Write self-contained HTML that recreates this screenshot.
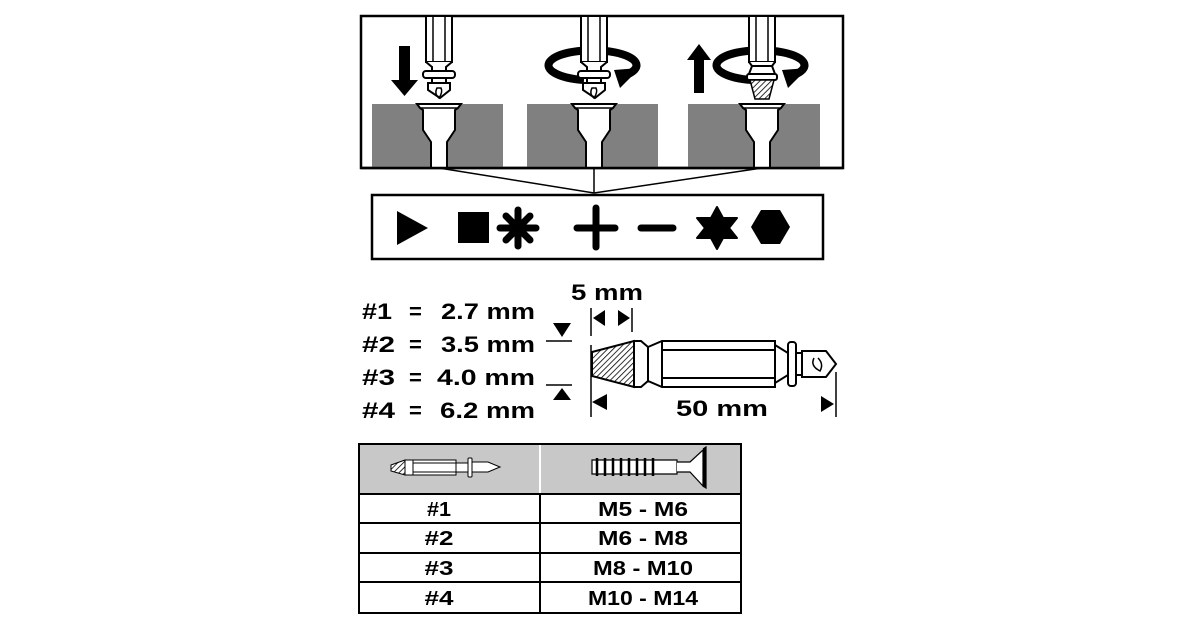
<!DOCTYPE html>
<html><head><meta charset="utf-8"><style>
html,body{margin:0;padding:0;background:#fff;}
svg{display:block;}
text{font-family:"Liberation Sans",sans-serif;font-weight:bold;fill:#000;}
</style></head><body>
<svg width="1200" height="630" viewBox="0 0 1200 630" xmlns="http://www.w3.org/2000/svg">
<defs>
<pattern id="hatch" width="4" height="4" patternUnits="userSpaceOnUse" patternTransform="rotate(45)">
<rect width="4" height="4" fill="#fff"/><line x1="0" y1="0" x2="0" y2="4" stroke="#000" stroke-width="1.6"/>
</pattern>
<g id="hole">
<path d="M-22,0 L22,0 L19,4 L16,6 L16,26 L8,38 L8,64 L-8,64 L-8,38 L-16,26 L-16,6 L-19,4 Z" fill="#fff" stroke="#000" stroke-width="2"/>
<line x1="-19" y1="4" x2="19" y2="4" stroke="#000" stroke-width="1.5"/>
</g>
<g id="shank">
<rect x="-13" y="0" width="26" height="46" fill="#fff" stroke="#000" stroke-width="2"/>
<line x1="-6" y1="0" x2="-6" y2="46" stroke="#000" stroke-width="1.5"/>
<line x1="6" y1="0" x2="6" y2="46" stroke="#000" stroke-width="1.5"/>
</g>
<g id="drill">
<path d="M-13,46 L-7,51 L-7,55 L7,55 L7,51 L13,46" fill="#fff" stroke="#000" stroke-width="2"/>
<rect x="-16" y="55" width="32" height="7" rx="3" fill="#fff" stroke="#000" stroke-width="2"/>
<rect x="-7" y="62" width="14" height="5" fill="#fff" stroke="#000" stroke-width="2"/>
<path d="M-11,67 L11,67 L11,74 L1,82 L-11,74 Z" fill="#fff" stroke="#000" stroke-width="2"/>
<path d="M-2,72 Q-5,78 0,82 Q4,76 2,72 Z" fill="none" stroke="#000" stroke-width="1.5"/>
</g>
</defs>

<!-- top box -->
<rect x="361" y="16" width="482" height="152" fill="#fff" stroke="#000" stroke-width="2.5"/>
<rect x="372" y="104" width="131" height="64" fill="#808080"/>
<rect x="527" y="104" width="131" height="64" fill="#808080"/>
<rect x="688" y="104" width="132" height="64" fill="#808080"/>
<use href="#hole" x="439" y="104"/>
<use href="#hole" x="594" y="104"/>
<use href="#hole" x="762" y="104"/>
<line x1="361" y1="168" x2="843" y2="168" stroke="#000" stroke-width="2.5"/>

<!-- tool 1 -->
<g transform="translate(439,16)"><use href="#shank"/><use href="#drill"/></g>
<path d="M399,46 L410,46 L410,80 L418,80 L404.5,96 L391,80 L399,80 Z" fill="#000"/>
<!-- tool 2 -->
<path d="M584,80 A44,15 0 1 1 626,75" fill="none" stroke="#000" stroke-width="8"/>
<path d="M614,70 L640,68 L620,88 Z" fill="#000"/>
<g transform="translate(594,16)"><use href="#shank"/><use href="#drill"/></g>
<!-- tool 3 -->
<path d="M752,80 A44,15 0 1 1 794,75" fill="none" stroke="#000" stroke-width="8"/>
<path d="M782,70 L808,68 L788,88 Z" fill="#000"/>
<g transform="translate(762,16)">
<use href="#shank"/>
<path d="M-13,46 L-10,50 L10,50 L13,46" fill="#fff" stroke="#000" stroke-width="2"/>
<path d="M-10,50 L10,50 L13,58 L-13,58 Z" fill="#fff" stroke="#000" stroke-width="2"/>
<rect x="-15" y="58" width="30" height="6" rx="2" fill="#fff" stroke="#000" stroke-width="2"/>
<path d="M-12,64 L12,64 L7,83 L-7,83 Z" fill="url(#hatch)" stroke="#000" stroke-width="1.5"/>
</g>
<path d="M694,93 L704,93 L704,60 L711,60 L699,44 L687,60 L694,60 Z" fill="#000"/>

<!-- connectors -->
<polyline points="439,168 594,193 762,168" fill="none" stroke="#000" stroke-width="1.5"/>
<line x1="594" y1="168" x2="594" y2="193" stroke="#000" stroke-width="1.5"/>

<!-- icon box -->
<rect x="372" y="195" width="451" height="64" fill="#fff" stroke="#000" stroke-width="2.5"/>
<path d="M397,211 L428,228 L397,245 Z" fill="#000"/>
<rect x="458" y="212" width="31" height="31" fill="#000"/>
<g stroke="#000" stroke-width="7" stroke-linecap="round">
<line x1="518" y1="210" x2="518" y2="246"/><line x1="500" y1="228" x2="536" y2="228"/>
<line x1="506" y1="216" x2="530" y2="240"/><line x1="530" y1="216" x2="506" y2="240"/>
<line x1="596" y1="208" x2="596" y2="247"/><line x1="577" y1="228" x2="615" y2="228"/>
<line x1="641" y1="228" x2="673" y2="228"/>
</g>
<path d="M717,207 L723,218 L737,218 L729,228 L737,238 L723,238 L717,249 L711,238 L697,238 L705,228 L697,218 L711,218 Z" fill="#000" stroke="#000" stroke-width="2" stroke-linejoin="round"/>
<path d="M761,210 L780,210 L790,227 L780,244 L761,244 L751,227 Z" fill="#000"/>

<!-- sizes -->
<g font-size="22">
<text x="362" y="319" textLength="30" lengthAdjust="spacingAndGlyphs">#1</text><text x="409" y="319">=</text><text x="441" y="319" textLength="94" lengthAdjust="spacingAndGlyphs">2.7 mm</text>
<text x="362" y="352" textLength="33" lengthAdjust="spacingAndGlyphs">#2</text><text x="409" y="352">=</text><text x="441" y="352" textLength="94" lengthAdjust="spacingAndGlyphs">3.5 mm</text>
<text x="362" y="385" textLength="33" lengthAdjust="spacingAndGlyphs">#3</text><text x="409" y="385">=</text><text x="437" y="385" textLength="98" lengthAdjust="spacingAndGlyphs">4.0 mm</text>
<text x="362" y="418" textLength="33" lengthAdjust="spacingAndGlyphs">#4</text><text x="409" y="418">=</text><text x="440" y="418" textLength="95" lengthAdjust="spacingAndGlyphs">6.2 mm</text>
<text x="571" y="300" textLength="72" lengthAdjust="spacingAndGlyphs">5 mm</text>
<text x="676" y="416" textLength="92" lengthAdjust="spacingAndGlyphs">50 mm</text>
</g>
<path d="M553,323 L571,323 L562,337 Z" fill="#000"/>
<line x1="546" y1="341" x2="572" y2="341" stroke="#000" stroke-width="1.5"/>
<line x1="546" y1="385" x2="572" y2="385" stroke="#000" stroke-width="1.5"/>
<path d="M553,400 L571,400 L562,388 Z" fill="#000"/>
<line x1="591" y1="308" x2="591" y2="336" stroke="#000" stroke-width="1.5"/>
<line x1="632" y1="308" x2="632" y2="332" stroke="#000" stroke-width="1.5"/>
<path d="M593,318 L605,310 L605,326 Z" fill="#000"/>
<path d="M630,318 L618,310 L618,326 Z" fill="#000"/>
<line x1="591" y1="345" x2="591" y2="417" stroke="#000" stroke-width="1.5"/>
<line x1="836" y1="372" x2="836" y2="417" stroke="#000" stroke-width="1.5"/>
<path d="M592,402 L607,394 L607,410 Z" fill="#000"/>
<path d="M834,404 L821,396 L821,412 Z" fill="#000"/>

<!-- bit -->
<g stroke="#000" stroke-width="2" fill="#fff">
<path d="M592,352 L634,341 L634,387 L592,376 Z" fill="url(#hatch)"/>
<path d="M634,341 L641,341 L648,347 L662,341 L775,341 L775,387 L662,387 L648,381 L641,387 L634,387 Z"/>
<line x1="648" y1="347" x2="648" y2="381"/>
<line x1="662" y1="341" x2="662" y2="387"/>
<line x1="662" y1="350" x2="775" y2="350"/>
<line x1="662" y1="378" x2="775" y2="378"/>
<path d="M775,345 L788,353 L788,375 L775,383 Z"/>
<rect x="788" y="342" width="8" height="44" rx="3"/>
<rect x="796" y="353" width="6" height="22"/>
<path d="M802,351 L826,351 L836,364 L826,377 L802,377 Z"/>
<path d="M814,358 Q810,366 820,371 Q824,364 818,358" fill="none" stroke-width="1.5"/>
</g>

<!-- table -->
<rect x="359" y="444" width="382" height="50" fill="#c8c8c8"/>
<line x1="540" y1="444" x2="540" y2="494" stroke="#fff" stroke-width="2"/>
<rect x="359" y="444" width="382" height="169" fill="none" stroke="#000" stroke-width="2"/>
<g stroke="#000" stroke-width="2">
<line x1="359" y1="494" x2="741" y2="494"/>
<line x1="359" y1="523" x2="741" y2="523"/>
<line x1="359" y1="553" x2="741" y2="553"/>
<line x1="359" y1="582" x2="741" y2="582"/>
<line x1="540" y1="494" x2="540" y2="613"/>
</g>
<g stroke="#000" stroke-width="1" fill="#fff">
<path d="M391,465 L405,460 L405,475 L391,471 Z" fill="url(#hatch)"/>
<rect x="405" y="460" width="8" height="15"/>
<rect x="413" y="460" width="43" height="15"/>
<line x1="413" y1="463" x2="456" y2="463"/><line x1="413" y1="472" x2="456" y2="472"/>
<rect x="456" y="463" width="12" height="9"/>
<rect x="468" y="458" width="4" height="19" rx="1"/>
<path d="M472,462 L488,462 L500,467 L488,472 L472,472 Z"/>
</g>
<g stroke="#000" stroke-width="1.2" fill="#fff">
<path d="M592,460 L677,460 L677,474 L592,474 Z"/>
<path d="M597,458 L597,476 M605,458 L605,476 M613,458 L613,476 M621,458 L621,476 M629,458 L629,476 M637,458 L637,476 M645,458 L645,476 M653,458 L653,476" stroke-width="2.5"/>
<path d="M677,462 L690,462 L703,450 L703,486 L690,472 L677,472"/>
<path d="M703,449 L706,447 L706,488 L703,486" fill="#000"/>
</g>
<g font-size="20" text-anchor="middle">
<text x="439" y="516" textLength="24" lengthAdjust="spacingAndGlyphs">#1</text><text x="643" y="516" textLength="90" lengthAdjust="spacingAndGlyphs">M5 - M6</text>
<text x="439" y="545" textLength="29" lengthAdjust="spacingAndGlyphs">#2</text><text x="643" y="545" textLength="90" lengthAdjust="spacingAndGlyphs">M6 - M8</text>
<text x="439" y="575" textLength="29" lengthAdjust="spacingAndGlyphs">#3</text><text x="643" y="575" textLength="100" lengthAdjust="spacingAndGlyphs">M8 - M10</text>
<text x="439" y="605" textLength="29" lengthAdjust="spacingAndGlyphs">#4</text><text x="643" y="605" textLength="110" lengthAdjust="spacingAndGlyphs">M10 - M14</text>
</g>
</svg>
</body></html>
